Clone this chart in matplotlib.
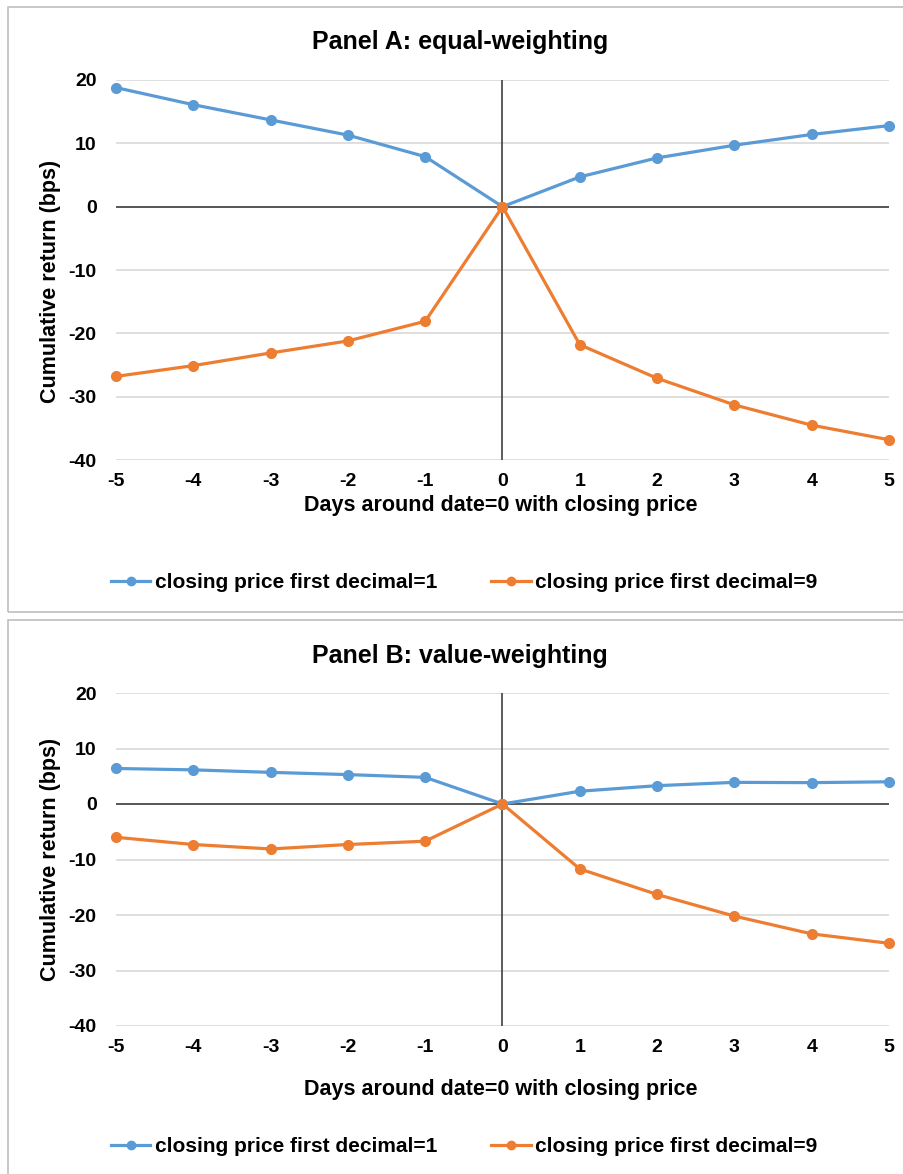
import matplotlib
matplotlib.use('Agg')
import matplotlib.pyplot as plt
from matplotlib.lines import Line2D

plt.rcParams['font.family'] = ['Liberation Sans', 'DejaVu Sans']
plt.rcParams['axes.unicode_minus'] = False

# ── data ──
days = [-5, -4, -3, -2, -1, 0, 1, 2, 3, 4, 5]

ew_dec1 = [18.8, 16.1, 13.7, 11.3, 7.9, 0.0, 4.7, 7.7, 9.7, 11.4, 12.8]
ew_dec9 = [-26.8, -25.1, -23.1, -21.2, -18.1, 0.0, -21.8, -27.1, -31.3, -34.5, -36.8]

vw_dec1 = [6.4, 6.15, 5.7, 5.3, 4.8, 0.0, 2.3, 3.3, 3.9, 3.85, 4.0]
vw_dec9 = [-6.0, -7.3, -8.1, -7.3, -6.7, 0.0, -11.7, -16.3, -20.2, -23.4, -25.1]

series_labels = ['closing price first decimal=1', 'closing price first decimal=9']
yticks = [20, 10, 0, -10, -20, -30, -40]

BLUE = '#5B9BD5'
ORANGE = '#ED7D31'
W, H = 904, 1174

fig = plt.figure(figsize=(W / 100, H / 100), dpi=100)
fig.patch.set_facecolor('white')


def px_axes(left, top, right, bottom):
    return fig.add_axes([left / W, 1 - bottom / H, (right - left) / W, (bottom - top) / H])


def frame(x0, y0, x1, y1):
    r = plt.Rectangle((x0 / W, 1 - y1 / H), (x1 - x0) / W, (y1 - y0) / H,
                      transform=fig.transFigure, facecolor='none',
                      edgecolor='#BFBFBF', linewidth=1.2, zorder=0)
    fig.add_artist(r)


def panel(top, bottom, title, title_y, xlabel_y, legend_y, s1, s9, ylab_pos):
    ax = px_axes(116, top, 889, bottom)
    ax.set_xlim(-5, 5)
    ax.set_ylim(-40, 20)
    for sp in ax.spines.values():
        sp.set_visible(False)
    ax.set_yticks(yticks)
    ax.set_xticks(days)
    ax.tick_params(length=0, labelsize=14)
    ax.tick_params(axis='y', pad=14)
    ax.tick_params(axis='x', pad=9)
    for lab in ax.get_xticklabels() + ax.get_yticklabels():
        lab.set_fontweight('bold')
    ax.grid(axis='y', color='#D9D9D9', linewidth=1.2)
    ax.set_axisbelow(True)
    ax.axhline(0, color='#404040', linewidth=1.2, zorder=1)
    ax.axvline(0, color='#404040', linewidth=1.2, zorder=1)
    ax.plot(days, s1, color=BLUE, lw=2.3, marker='o', ms=7, zorder=3, clip_on=False)
    ax.plot(days, s9, color=ORANGE, lw=2.3, marker='o', ms=7, zorder=3, clip_on=False)
    ax.set_ylabel('Cumulative return (bps)', fontsize=15.5, fontweight='bold')
    ax.yaxis.set_label_coords(-55 / 773, ylab_pos)

    fig.text(460 / W, 1 - title_y / H, title, ha='center', va='center',
             fontsize=18, fontweight='bold')
    fig.text(501 / W, 1 - xlabel_y / H, 'Days around date=0 with closing price',
             ha='center', va='center', fontsize=15.5, fontweight='bold')
    handles = [Line2D([], [], color=BLUE, lw=2.3, marker='o', ms=6),
               Line2D([], [], color=ORANGE, lw=2.3, marker='o', ms=6)]
    fig.legend(handles, series_labels, loc='center', bbox_to_anchor=(464 / W, 1 - legend_y / H),
               ncol=2, frameon=False, prop={'size': 15, 'weight': 'bold'},
               handlelength=1.9, handletextpad=0.2, columnspacing=2.6)
    return ax


frame(8, 7, 960, 612)
frame(8, 620, 960, 1200)

panel(80, 460, 'Panel A: equal-weighting', 42, 506, 583, ew_dec1, ew_dec9, 0.47)
panel(693, 1026, 'Panel B: value-weighting', 656, 1090, 1147, vw_dec1, vw_dec9, 0.5)

fig.savefig('out.png', dpi=100, facecolor='white')
